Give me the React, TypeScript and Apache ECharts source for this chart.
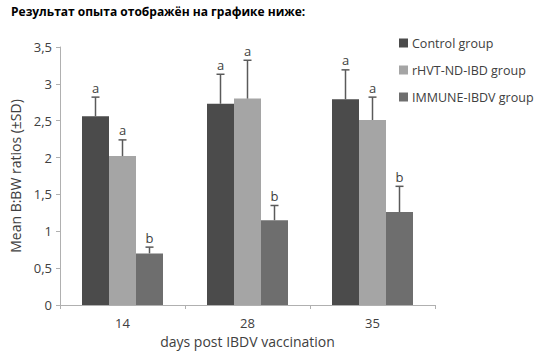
import React, { useEffect, useRef } from "react";
import * as echarts from "echarts";

const categories = ["14", "28", "35"];
const seriesNames = ["Control group", "rHVT-ND-IBD group", "IMMUNE-IBDV group"];
const controlMeans = [2.56, 2.73, 2.79];
const controlSD = [0.26, 0.40, 0.40];
const rhvtMeans = [2.02, 2.80, 2.51];
const rhvtSD = [0.22, 0.52, 0.31];
const immuneMeans = [0.70, 1.15, 1.26];
const immuneSD = [0.085, 0.20, 0.35];
const controlLetters = ["a", "a", "a"];
const rhvtLetters = ["a", "a", "a"];
const immuneLetters = ["b", "b", "b"];
const yTicks = ["0", "0,5", "1", "1,5", "2", "2,5", "3", "3,5"];

const colors = ["#4b4b4b", "#a5a5a5", "#6e6e6e"];
const FONT = "'Open Sans', 'Noto Sans', sans-serif";

export default function App() {
  const ref = useRef<HTMLDivElement>(null);
  useEffect(() => {
    if (!ref.current) return;
    const chart = echarts.init(ref.current, undefined, { renderer: "svg" });
    const means = [controlMeans, rhvtMeans, immuneMeans];
    const sds = [controlSD, rhvtSD, immuneSD];
    const letters = [controlLetters, rhvtLetters, immuneLetters];
    const barW = 27;
    const errData: any[] = [];
    means.forEach((arr, s) => {
      arr.forEach((m, i) => {
        errData.push([i, m, sds[s][i], s, letters[s][i]]);
      });
    });
    chart.setOption({
      animation: false,
      textStyle: { fontFamily: FONT },
      title: {
        text: "Результат опыта отображён на графике ниже:",
        left: 6,
        top: 0,
        textStyle: { fontSize: 12, fontWeight: "bold", color: "#000", fontFamily: FONT },
      },
      legend: {
        orient: "vertical",
        left: 399,
        top: 35,
        padding: 0,
        itemWidth: 9,
        itemHeight: 9,
        itemGap: 11,
        icon: "rect",
        data: seriesNames,
        textStyle: { fontSize: 12.5, color: "#404040", fontFamily: FONT, lineHeight: 16, padding: [0, 0, 0, -1] },
      },
      grid: { left: 58, right: 107, top: 47, bottom: 45 },
      xAxis: {
        type: "category",
        data: categories,
        name: "days post IBDV vaccination",
        nameLocation: "middle",
        nameGap: 29,
        nameTextStyle: { fontSize: 14, color: "#404040" },
        axisLine: { lineStyle: { color: "#b0b0b0" } },
        axisTick: { show: true, length: 4, lineStyle: { color: "#b0b0b0" } },
        axisLabel: { fontSize: 13, color: "#404040", margin: 11 },
      },
      yAxis: {
        type: "value",
        min: 0,
        max: 3.5,
        interval: 0.5,
        name: "Mean B:BW ratios (±SD)",
        nameLocation: "middle",
        nameGap: 38,
        nameTextStyle: { fontSize: 14, color: "#404040" },
        axisLine: { show: true, lineStyle: { color: "#b0b0b0" } },
        axisTick: { show: true, length: 4, lineStyle: { color: "#b0b0b0" } },
        splitLine: { show: false },
        axisLabel: {
          fontSize: 13,
          color: "#404040",
          margin: 8,
          formatter: (v: number) => yTicks[Math.round(v / 0.5)] ?? String(v),
        },
      },
      series: [
        ...means.map((arr, s) => ({
          type: "bar",
          name: seriesNames[s],
          data: arr,
          barWidth: barW,
          barGap: "0%",
          itemStyle: { color: colors[s] },
        })),
        {
          type: "custom",
          name: "err",
          data: errData,
          z: 10,
          renderItem: (params: any, api: any) => {
            const cat = api.value(0);
            const m = api.value(1);
            const sd = api.value(2);
            const s = api.value(3);
            const letter = errData[params.dataIndex][4];
            const base = api.coord([cat, m]);
            const top = api.coord([cat, m + sd]);
            const x = base[0] + (s - 1) * barW;
            const cap = 4;
            const stroke = { stroke: "#5a5a5a", lineWidth: 1.5 };
            return {
              type: "group",
              children: [
                { type: "line", shape: { x1: x, y1: base[1], x2: x, y2: top[1] }, style: stroke },
                { type: "line", shape: { x1: x - cap, y1: top[1], x2: x + cap, y2: top[1] }, style: stroke },
                {
                  type: "text",
                  style: {
                    text: letter,
                    x: x,
                    y: top[1] - 3,
                    align: "center",
                    verticalAlign: "bottom",
                    fontSize: 13,
                    fontFamily: FONT,
                    fill: "#404040",
                  },
                },
              ],
            };
          },
        },
      ],
    });
    return () => chart.dispose();
  }, []);
  return (
    <div
      ref={ref}
      style={{ position: "fixed", left: 0, top: 0, width: 542, height: 353, background: "#fff" }}
    />
  );
}
